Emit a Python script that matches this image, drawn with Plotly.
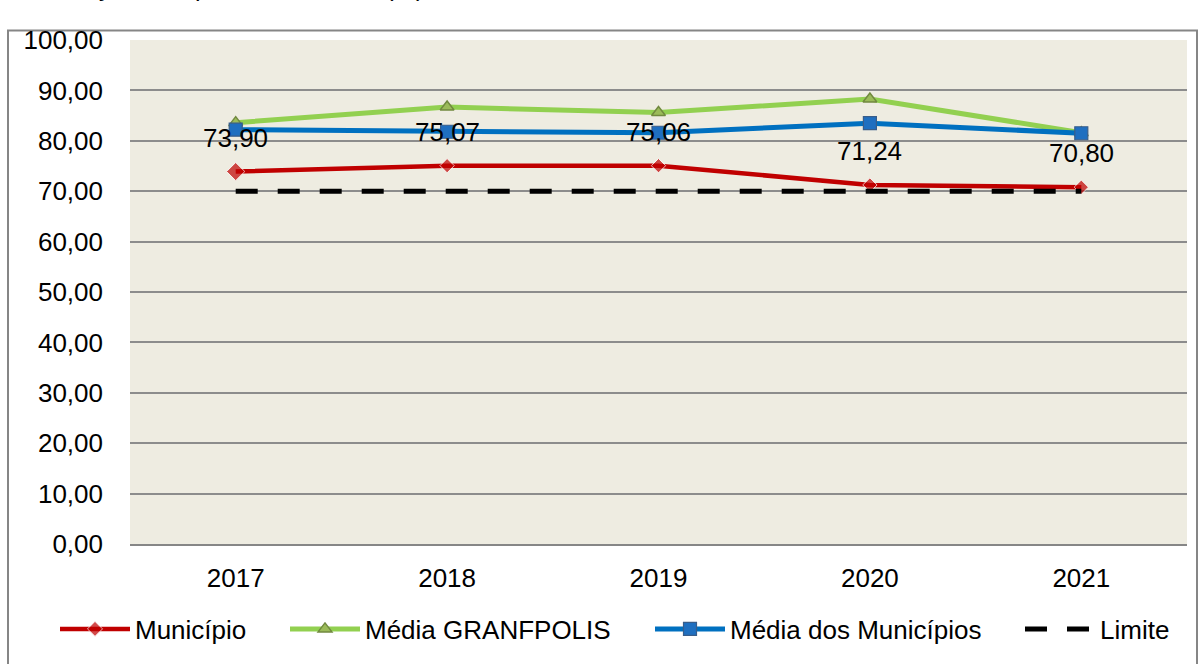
import plotly.graph_objects as go

years = ["2017", "2018", "2019", "2020", "2021"]
municipio = [73.90, 75.07, 75.06, 71.24, 70.80]
media_granfpolis = [83.6, 86.7, 85.6, 88.3, 81.6]
media_municipios = [82.2, 81.8, 81.6, 83.5, 81.5]
limite = [70.0, 70.0, 70.0, 70.0, 70.0]
series_names = ["Município", "Média GRANFPOLIS", "Média dos Municípios", "Limite"]
title_text = "Gráfico – Evolução Comparativa – Índice (%) – 2017 a 2021"

FONT = "Liberation Sans, Arial, sans-serif"
FS = 26
W, H = 1203, 664
L, R, T, B = 130, 16, 39.5, 117.5
PW = W - L - R
PH = H - T - B


def px_to_paper_x(px):
    return (px - L) / PW


def px_to_paper_y(py):
    return (H - B - py) / PH


def fmt(v):
    return f"{v:.2f}".replace(".", ",")


fig = go.Figure()

fig.add_trace(go.Scatter(
    x=years, y=municipio, name=series_names[0], mode="lines+markers",
    line=dict(color="#C00000", width=4.5),
    marker=dict(symbol="diamond", size=[14, 11, 11, 11, 11], color="#C00000"),
    legend="legend",
))
fig.add_trace(go.Scatter(
    x=years, y=media_granfpolis, name=series_names[1], mode="lines+markers",
    line=dict(color="#92D050", width=5),
    marker=dict(symbol="triangle-up", size=12, color="#9BBB59",
                line=dict(color="#71893F", width=1.5)),
    legend="legend2",
))
fig.add_trace(go.Scatter(
    x=years, y=media_municipios, name=series_names[2], mode="lines+markers",
    line=dict(color="#0070C0", width=5),
    marker=dict(symbol="square", size=13, color="#1F6FC0",
                line=dict(color="#385D8A", width=1.2)),
    legend="legend3",
))
fig.add_trace(go.Scatter(
    x=years, y=limite, name=series_names[3], mode="lines",
    line=dict(color="#000000", width=5, dash="22px,20px"),
    legend="legend4",
))

annotations = []
for i, v in enumerate(municipio):
    annotations.append(dict(
        x=i, y=v, xref="x", yref="y", text=fmt(v), showarrow=False,
        yshift=34, font=dict(family=FONT, size=FS, color="#000000"),
    ))

annotations.append(dict(
    x=px_to_paper_x(-78), y=px_to_paper_y(2), xref="paper", yref="paper",
    xanchor="left", yanchor="bottom", text=title_text, showarrow=False,
    font=dict(family=FONT, size=25, color="#000000"),
))

shapes = [dict(
    type="rect", xref="paper", yref="paper",
    x0=px_to_paper_x(8), x1=px_to_paper_x(1197),
    y0=px_to_paper_y(672), y1=px_to_paper_y(30),
    line=dict(color="#868686", width=2), fillcolor="rgba(0,0,0,0)", layer="below",
)]


def legend_at(sample_start_px):
    return dict(
        orientation="h", x=px_to_paper_x(sample_start_px - 5), xanchor="left",
        y=px_to_paper_y(632), yanchor="middle",
        font=dict(family=FONT, size=FS, color="#000000"),
        itemwidth=70, bgcolor="rgba(0,0,0,0)",
    )


fig.update_layout(
    width=W, height=H,
    margin=dict(l=L, r=R, t=T, b=B, pad=0),
    paper_bgcolor="#FFFFFF",
    plot_bgcolor="#EEECE1",
    separators=",.",
    font=dict(family=FONT, size=FS, color="#000000"),
    showlegend=True,
    legend=legend_at(60),
    legend2=legend_at(290),
    legend3=legend_at(655),
    legend4=legend_at(1025),
    annotations=annotations,
    shapes=shapes,
    xaxis=dict(
        type="category", range=[-0.5, 4.5], showgrid=False, zeroline=False,
        showline=True, linecolor="#868686", linewidth=2, ticks="",
        tickfont=dict(family=FONT, size=FS), ticklabelstandoff=10,
        fixedrange=True,
    ),
    yaxis=dict(
        range=[0, 100], dtick=10, tick0=0, tickformat=".2f",
        showgrid=True, gridcolor="#8C8C8C", gridwidth=1.5,
        zeroline=False, showline=False, ticks="",
        tickfont=dict(family=FONT, size=FS), ticklabelstandoff=26,
        fixedrange=True,
    ),
)

fig.write_html(
    "out.html",
    config={"displayModeBar": False},
    post_script="document.body.style.margin='0';document.body.style.overflow='hidden';",
)
